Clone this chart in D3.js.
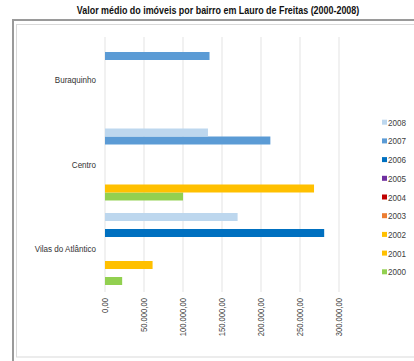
<!DOCTYPE html>
<html>
<head>
<meta charset="utf-8">
<script src="https://cdn.jsdelivr.net/npm/d3@7"></script>
<style>
  html, body { margin: 0; padding: 0; background: #fff; }
  svg { display: block; font-family: "Liberation Sans", Arial, sans-serif; }
</style>
</head>
<body>
<svg id="chart" width="414" height="361"></svg>
<script>
// Neighbourhoods (top to bottom) and years (series order, 2000 first)
const bairros = ["Buraquinho", "Centro", "Vilas do Atlântico"];
const anos = ["2000", "2001", "2002", "2003", "2004", "2005", "2006", "2007", "2008"];
const cores = ["#92d050", "#ffc000", "#ffc000", "#ed7d31", "#c00000", "#7030a0", "#0070c0", "#5b9bd5", "#bdd7ee"];

// Average property value per neighbourhood, one array per year (null = no data)
const v2000 = [null, 100000, 22000];
const v2001 = [null, 268000, null];
const v2002 = [null, null, 61000];
const v2003 = [null, null, null];
const v2004 = [null, null, null];
const v2005 = [null, null, null];
const v2006 = [null, null, 281000];
const v2007 = [134000, 212000, null];
const v2008 = [null, 132000, 170000];
const valores = [v2000, v2001, v2002, v2003, v2004, v2005, v2006, v2007, v2008];

const ticks = [0, 50000, 100000, 150000, 200000, 250000, 300000];
const titulo = "Valor médio do imóveis por bairro em Lauro de Freitas (2000-2008)";

// narrow type: the regular face squeezed horizontally
const NARROW = 0.85;

const svg = d3.select("#chart");

// Frames
svg.append("path").attr("d", "M13,361V20H414").attr("fill", "none").attr("stroke", "#9a9a9a").attr("stroke-width", 2);
svg.append("rect").attr("x", 16.5).attr("y", 24.5).attr("width", 420).attr("height", 332.5)
  .attr("fill", "#fff").attr("stroke", "#d9d9d9");

// Title
svg.append("text").attr("transform", `translate(218,13.5) scale(${NARROW},1)`).attr("text-anchor", "middle")
  .attr("font-weight", "bold").attr("font-size", 10.5).attr("fill", "#111").text(titulo);

const x = d3.scaleLinear().domain([0, 300000]).range([105, 339]);
const y0 = d3.scaleBand().domain(bairros).range([37.75, 291.25]).paddingInner(0.148).paddingOuter(0.074);
// within a group, the first year sits at the bottom
const y1 = d3.scaleBand().domain(anos.slice().reverse()).range([0, y0.bandwidth()]);

// Gridlines
svg.append("g").selectAll("line").data(ticks).join("line")
  .attr("x1", d => x(d)).attr("x2", d => x(d))
  .attr("y1", 37).attr("y2", 292)
  .attr("stroke", "#e3e3e3").attr("stroke-width", 1);

// Bars
const rows = [];
anos.forEach((ano, i) => valores[i].forEach((v, j) => {
  if (v != null) rows.push({ ano, bairro: bairros[j], v, cor: cores[i] });
}));
svg.append("g").selectAll("rect").data(rows).join("rect")
  .attr("x", x(0))
  .attr("y", d => y0(d.bairro) + y1(d.ano))
  .attr("width", d => x(d.v) - x(0))
  .attr("height", y1.bandwidth())
  .attr("fill", d => d.cor);

// Category labels
svg.append("g").selectAll("text").data(bairros).join("text")
  .attr("transform", d => `translate(96,${y0(d) + y0.bandwidth() / 2 + 3}) scale(${NARROW},1)`)
  .attr("text-anchor", "end").attr("font-size", 9.5).attr("fill", "#333")
  .text(d => d);

// Value axis labels (rotated)
const fmt = d3.formatLocale({ decimal: ",", thousands: ".", grouping: [3], currency: ["R$", ""] }).format(",.2f");
svg.append("g").selectAll("text").data(ticks).join("text")
  .attr("transform", d => `translate(${x(d) + 3},298) rotate(-90) scale(${NARROW},1)`)
  .attr("text-anchor", "end").attr("font-size", 9).attr("fill", "#404040")
  .text(d => fmt(d));

// Legend (2008 at the top)
const leg = svg.append("g").selectAll("g").data(anos.map((a, i) => ({ a, c: cores[i] })).reverse()).join("g")
  .attr("transform", (d, i) => `translate(382,${122.7 + i * 18.7})`);
leg.append("rect").attr("x", 0).attr("y", -3).attr("width", 5).attr("height", 5).attr("fill", d => d.c);
leg.append("text").attr("transform", `translate(6,3) scale(0.9,1)`).attr("font-size", 9).attr("fill", "#404040").text(d => d.a);
</script>
</body>
</html>
